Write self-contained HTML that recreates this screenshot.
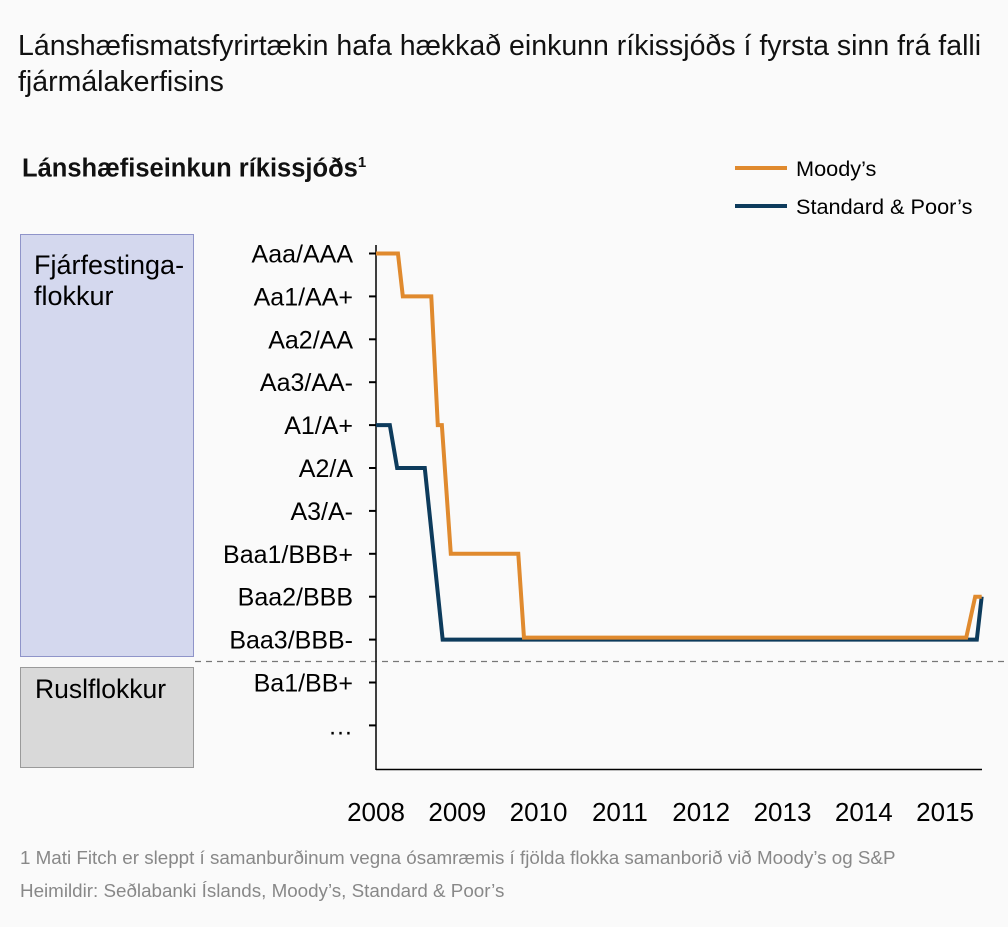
<!DOCTYPE html>
<html><head><meta charset="utf-8">
<style>
body{margin:0;background:#fafafa;}
#wrap{position:relative;width:1008px;height:927px;background:#fafafa;font-family:"Liberation Sans",sans-serif;color:#111;overflow:hidden}
.t{position:absolute;white-space:nowrap}
</style></head><body>
<div id="wrap">
<div class="t" style="left:18px;top:28px;font-size:28.5px;line-height:36px;white-space:normal;width:990px">Lánshæfismatsfyrirtækin hafa hækkað einkunn ríkissjóðs í fyrsta sinn frá falli fjármálakerfisins</div>
<div class="t" style="left:22px;top:154px;font-size:25.5px;font-weight:bold">Lánshæfiseinkun ríkissjóðs<sup style="font-size:15px">1</sup></div>
<div class="t" style="left:20px;top:847px;font-size:18.8px;color:#888">1 Mati Fitch er sleppt í samanburðinum vegna ósamræmis í fjölda flokka samanborið við Moody’s og S&amp;P</div>
<div class="t" style="left:20px;top:880px;font-size:18.8px;color:#888">Heimildir: Seðlabanki Íslands, Moody’s, Standard &amp; Poor’s</div>
<svg id="svg" width="1008" height="927" style="position:absolute;left:0;top:0" font-family="Liberation Sans, sans-serif"></svg>
</div>
<script>
const levelLabels=["Aaa/AAA","Aa1/AA+","Aa2/AA","Aa3/AA-","A1/A+","A2/A","A3/A-","Baa1/BBB+","Baa2/BBB","Baa3/BBB-","Ba1/BB+","…"];
const yearLabels=[2008,2009,2010,2011,2012,2013,2014,2015];
const moodysX=[2008.0,2008.27,2008.33,2008.68,2008.76,2008.81,2008.92,2009.75,2009.82,2015.26,2015.37,2015.45];
const moodysY=[0,0,1,1,4,4,7,7,9,9,8,8];
const spX=[2008.0,2008.17,2008.26,2008.60,2008.82,2015.39,2015.45];
const spY=[4,4,5,5,9,9,8];
const svg=document.getElementById('svg');
const NS='http://www.w3.org/2000/svg';
function xs(t){return 376+(t-2008)*81.3;}
function ys(l){return 253.5+l*42.9;}
function mk(tag,attrs,name){const e=document.createElementNS(NS,tag);for(const k in attrs)e.setAttribute(k,attrs[k]);


svg.appendChild(e);return e;}
mk('rect',{x:20.5,y:234.5,width:173,height:422,fill:'#d4d8ee',stroke:'#8f94c9'},'investment-grade-box');
mk('rect',{x:20.5,y:667.5,width:173,height:100,fill:'#d9d9d9',stroke:'#9a9a9a'},'junk-grade-box');
let tx=mk('text',{x:34,y:274,'font-size':27},'investment-grade-label');tx.textContent='Fjárfestinga-';
tx=mk('text',{x:34,y:305,'font-size':27},'investment-grade-label-2');tx.textContent='flokkur';
tx=mk('text',{x:35,y:698,'font-size':26.5},'junk-grade-label');tx.textContent='Ruslflokkur';
mk('line',{x1:195,x2:1008,y1:661.5,y2:661.5,stroke:'#777','stroke-width':1.2,'stroke-dasharray':'6,5'},'grade-separator');
mk('line',{x1:376,x2:376,y1:245,y2:770,stroke:'#000','stroke-width':1.5},'y-axis');
mk('line',{x1:376,x2:982,y1:769.5,y2:769.5,stroke:'#000','stroke-width':1.5},'x-axis');
levelLabels.forEach((l,i)=>{
 mk('line',{x1:369,x2:376,y1:ys(i),y2:ys(i),stroke:'#000','stroke-width':2},'y-tick');
 const t=mk('text',{x:353,y:ys(i)+9,'font-size':25,'text-anchor':'end'},'y-tick-label');t.textContent=l;
});
yearLabels.forEach(y=>{const t=mk('text',{x:xs(y),y:821,'font-size':26,'text-anchor':'middle'},'x-tick-label');t.textContent=y;});
function line(X,Y,c,n){mk('polyline',{points:X.map((x,i)=>xs(x)+','+(ys(Y[i])+(n==='moodys-line'&&Y[i]===9?-2:0))).join(' '),fill:'none',stroke:c,'stroke-width':4,'stroke-linejoin':'miter'},n);}
line(spX,spY,'#0d3b5c','sp-line');
line(moodysX,moodysY,'#e08a2e','moodys-line');
mk('line',{x1:735,x2:787,y1:168,y2:168,stroke:'#e08a2e','stroke-width':4},'legend-moodys-swatch');
tx=mk('text',{x:796,y:176,'font-size':21.7},'legend-moodys-label');tx.textContent='Moody’s';
mk('line',{x1:735,x2:787,y1:206,y2:206,stroke:'#0d3b5c','stroke-width':4},'legend-sp-swatch');
tx=mk('text',{x:796,y:214,'font-size':21.7},'legend-sp-label');tx.textContent='Standard & Poor’s';
</script>
</body></html>
